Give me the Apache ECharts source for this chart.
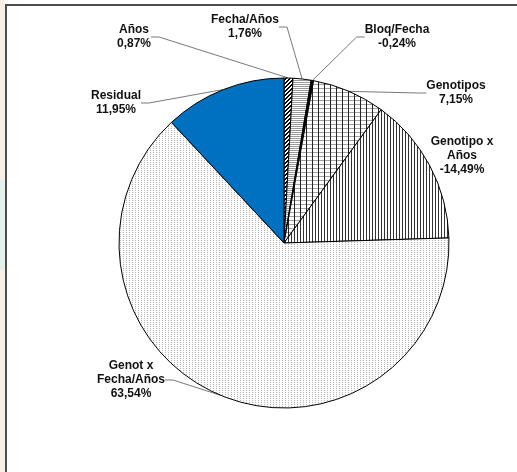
<!DOCTYPE html>
<html>
<head>
<meta charset="utf-8">
<script src="https://cdn.jsdelivr.net/npm/echarts@6/dist/echarts.min.js"></script>
<style>
    html, body { margin: 0; padding: 0; background: #fff; }
    #pie_chart { width: 517px; height: 472px; }
</style>
</head>
<body>
<div id="pie_chart"></div>
<script>
// 数据
var categorias = ['Años', 'Fecha/Años', 'Bloq/Fecha', 'Genotipos', 'Genotipo x\nAños', 'Genot x\nFecha/Años', 'Residual'];
var valores = [0.87, 1.76, -0.24, 7.15, -14.49, 63.54, 11.95];

// 标签位置 (文本中心)
var label_pos = [[134, 37], [245, 27], [397, 37], [456, 93], [462, 156], [131, 380], [116, 103]];

// 填充图案
function make_pattern(w, h, draw) {
    var c = document.createElement('canvas');
    c.width = w;
    c.height = h;
    var ctx = c.getContext('2d');
    ctx.fillStyle = '#fff';
    ctx.fillRect(0, 0, w, h);
    draw(ctx);
    return { image: c, repeat: 'repeat' };
}

var pat_diag = make_pattern(4, 4, function (ctx) {
    ctx.fillStyle = '#000';
    for (var i = 0; i < 4; i++) {
        ctx.fillRect(3 - i, i, 1, 1);
        ctx.fillRect((4 - i) % 4, i, 1, 1);
    }
});
var pat_horiz = make_pattern(1, 2, function (ctx) {
    ctx.fillStyle = '#9a9a9a';
    ctx.fillRect(0, 0, 1, 1);
});
var pat_dark = make_pattern(2, 2, function (ctx) {
    ctx.fillStyle = '#000';
    ctx.fillRect(0, 0, 2, 2);
});
var pat_grid = make_pattern(6, 4, function (ctx) {
    ctx.fillStyle = '#a0a0a0';
    ctx.fillRect(0, 0, 6, 1);
    ctx.fillStyle = '#222';
    ctx.fillRect(0, 0, 1, 4);
});
var pat_vert = make_pattern(3, 1, function (ctx) {
    ctx.fillStyle = '#333';
    ctx.fillRect(0, 0, 1, 1);
});
var pat_dots = make_pattern(3, 2, function (ctx) {
    ctx.fillStyle = '#b4b4b4';
    ctx.fillRect(0, 0, 1, 1);
});
var colores = [pat_diag, pat_horiz, pat_dark, pat_grid, pat_vert, pat_dots, '#0070C0'];

var pie_data = [];
for (var i = 0; i < categorias.length; i++) {
    pie_data.push({
        name: categorias[i],
        value: Math.abs(valores[i]),
        real: valores[i],
        itemStyle: { color: colores[i] },
        labelLine: { show: i !== 4 }
    });
}

var pie_chart = echarts.init(document.getElementById('pie_chart'));

var pie_option = {
    backgroundColor: '#fff',
    animation: false,
    graphic: [
        { type: 'rect', shape: { x: 0, y: 0, width: 5, height: 472 }, style: { fill: '#f6f0e7' } },
        { type: 'rect', shape: { x: 0, y: 180, width: 5, height: 90 }, style: { fill: '#e4f1ea' } },
        { type: 'line', shape: { x1: 5, y1: 5, x2: 517, y2: 5 }, style: { stroke: '#4d4d4d', lineWidth: 2 } },
        { type: 'line', shape: { x1: 6, y1: 4, x2: 6, y2: 472 }, style: { stroke: '#4d4d4d', lineWidth: 2 } }
    ],
    series: [
        {
        name: 'Varianza',
        type: 'pie',
        center: [284, 243],
        radius: 165,
        startAngle: 90,
        clockwise: true,
        avoidLabelOverlap: false,
        data: pie_data,
        itemStyle: {
            borderColor: '#000',
            borderWidth: 1
        },
        label: {
            show: true,
            color: '#111',
            fontFamily: 'Liberation Sans, Arial, sans-serif',
            fontWeight: 'bold',
            fontSize: 12,
            lineHeight: 14,
            align: 'center',
            formatter: function (p) {
                return p.name + '\n' + p.data.real.toFixed(2).replace('.', ',') + '%';
            }
        },
        labelLine: {
            show: true,
            length: 10,
            length2: 8,
            lineStyle: { color: '#7a7a7a', width: 1 }
        },
        labelLayout: function (params) {
            var p = label_pos[params.dataIndex];
            return {
                x: p[0],
                y: p[1],
                align: 'center',
                verticalAlign: 'middle'
            };
        },
        emphasis: { disabled: true }
        }
    ]
};

// 使用刚指定的配置项和数据显示图表。
pie_chart.setOption(pie_option);
</script>
</body>
</html>
